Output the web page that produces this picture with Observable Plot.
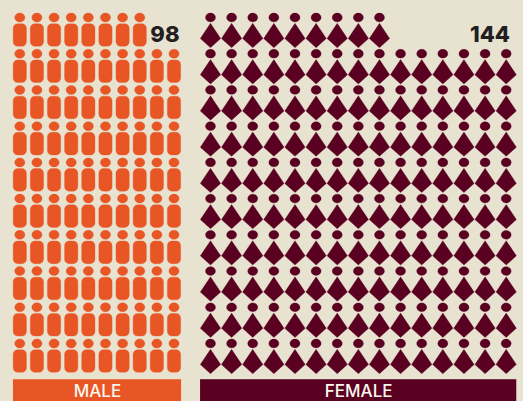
<!DOCTYPE html>
<html>
<head>
<meta charset="utf-8">
<script src="https://cdn.jsdelivr.net/npm/d3@7"></script>
<script src="https://cdn.jsdelivr.net/npm/@observablehq/plot@0.6"></script>
<style>
html,body{margin:0;padding:0;background:#e8e2d0;overflow:hidden}
#chart{display:flex;width:523px;height:401px}
svg{display:block;background:transparent!important}
</style>
</head>
<body>
<div id="chart"></div>
<script>
const labels = ["MALE", "FEMALE"];
const counts = [98, 144];
const columnCounts = [10, 15];
const rowCount = 10;
const colors = ["#e85625", "#5a0021"];
const panelWidths = [190, 333];
const colRanges = [[19.3, 173.5], [20, 315.7]];
const barCols = [[-0.37, 9.44], [-0.47, 14.5]];
const countDx = [5.5, 3.8];

function ellipseSymbol(rx, ry) {
  const k = 0.5523;
  return {draw(c) {
    c.moveTo(rx, 0);
    c.bezierCurveTo(rx, k * ry, k * rx, ry, 0, ry);
    c.bezierCurveTo(-k * rx, ry, -rx, k * ry, -rx, 0);
    c.bezierCurveTo(-rx, -k * ry, -k * rx, -ry, 0, -ry);
    c.bezierCurveTo(k * rx, -ry, rx, -k * ry, rx, 0);
    c.closePath();
  }};
}
function roundedSymbol(w, h, r) {
  return {draw(c) {
    c.moveTo(-w + r, -h);
    c.arcTo(w, -h, w, h, r);
    c.arcTo(w, h, -w, h, r);
    c.arcTo(-w, h, -w, -h, r);
    c.arcTo(-w, -h, w, -h, r);
    c.closePath();
  }};
}
const kiteSymbol = {draw(c) { c.moveTo(0, -15.2); c.lineTo(10.2, 0); c.lineTo(0, 9.2); c.lineTo(-10.2, 0); c.closePath(); }};

function cells(count, cols) {
  const missing = cols * rowCount - count, out = [];
  for (let row = 0; row < rowCount; row++)
    for (let col = 0; col < cols; col++)
      if (row > 0 || col < cols - missing) out.push({col, row});
  return out;
}

function panel(k, head, body, bodyDy) {
  const cols = columnCounts[k], fill = colors[k], data = cells(counts[k], cols);
  return Plot.plot({
    width: panelWidths[k], height: 401,
    margin: 0,
    style: {background: "transparent", overflow: "visible"},
    x: {domain: [0, cols - 1], range: colRanges[k], axis: null},
    y: {domain: [0, rowCount - 1], range: [17, 343], axis: null},
    marks: [
      Plot.dot(data, {x: "col", y: "row", r: 5, symbol: head, fill, stroke: fill, strokeWidth: 0.3}),
      Plot.dot(data, {x: "col", y: "row", r: 5, symbol: body, fill, stroke: fill, strokeWidth: 0.3, dy: bodyDy}),
      Plot.rect([labels[k]], {x1: barCols[k][0], x2: barCols[k][1], y1: 10, y2: 10.61, fill}),
      Plot.text([labels[k]], {
        x: (barCols[k][0] + barCols[k][1]) / 2, y: 10.33, text: d => d,
        fill: "#fbf7ee", fontSize: 17, fontWeight: 500, fontFamily: "Inter, sans-serif", lineAnchor: "middle"
      }),
      Plot.text([counts[k]], {
        x: cols - 1, y: 0, dx: countDx[k], dy: 17.5, text: d => String(d), textAnchor: "end",
        fill: "#231f20", fontSize: 22, fontWeight: 800, fontFamily: "Inter, sans-serif", lineAnchor: "middle"
      })
    ]
  });
}

const root = document.getElementById("chart");
root.append(panel(0, ellipseSymbol(5.1, 4.5), roundedSymbol(6.65, 11.3, 4.5), 17.5));
root.append(panel(1, ellipseSymbol(5, 4.4), kiteSymbol, 21));
</script>
</body>
</html>
